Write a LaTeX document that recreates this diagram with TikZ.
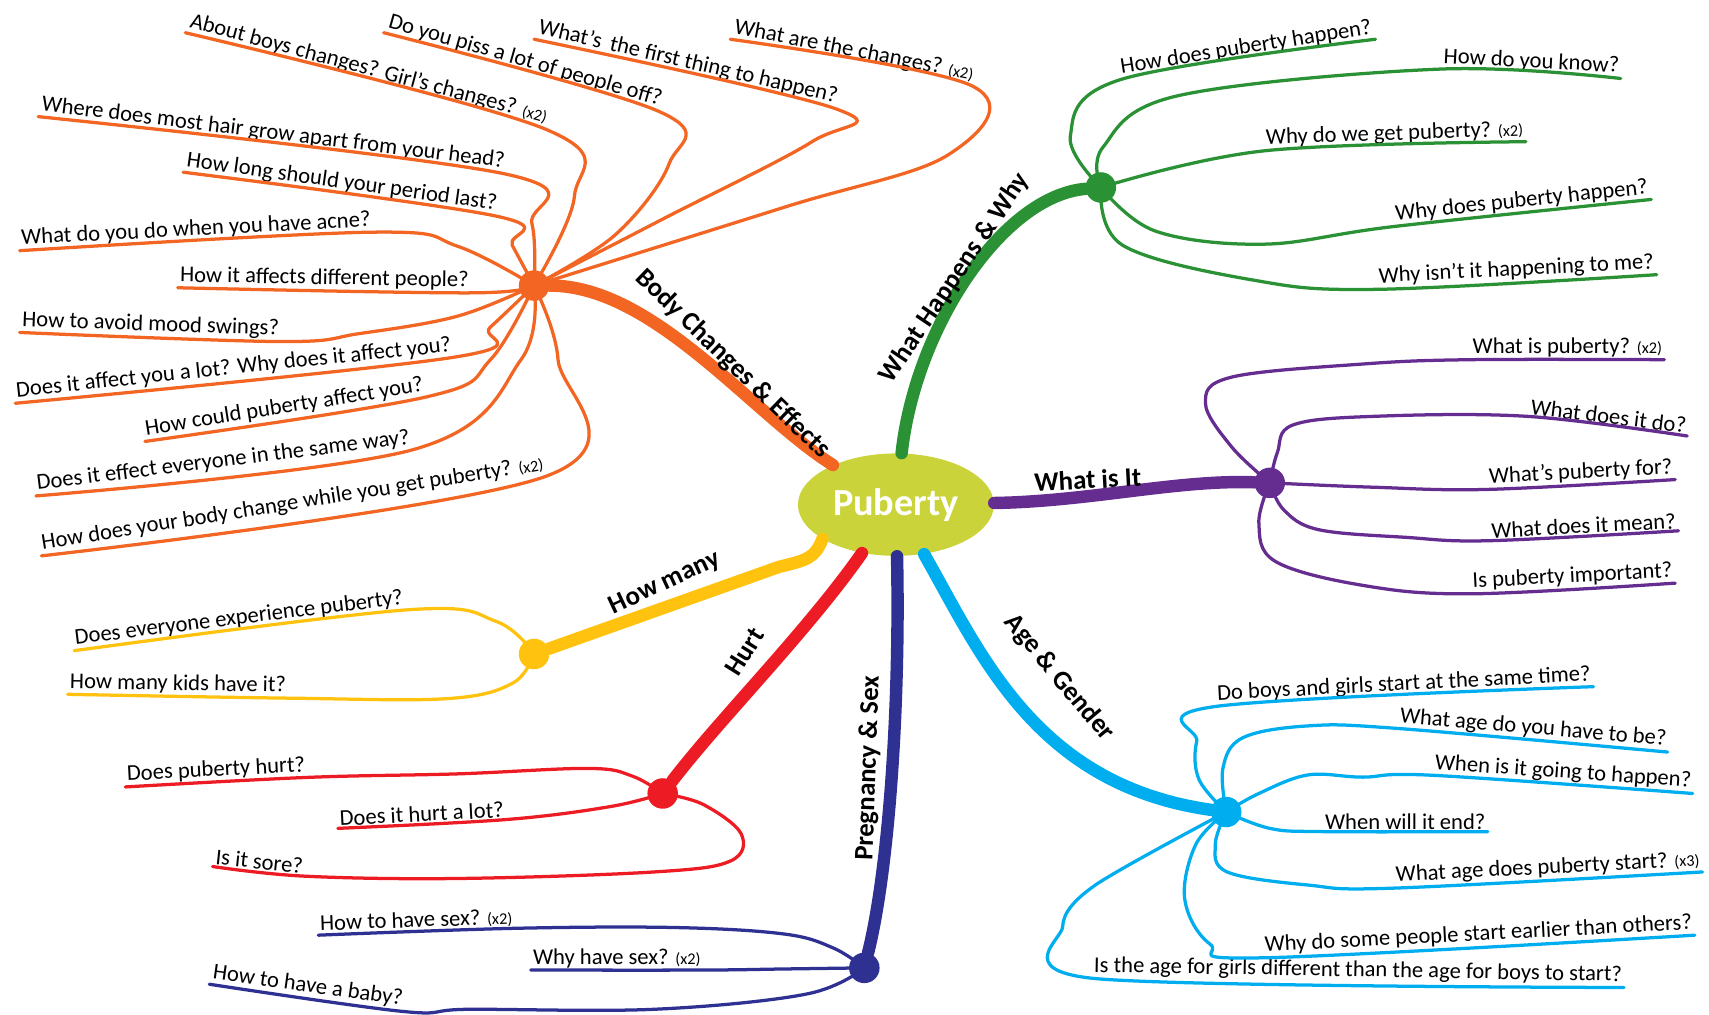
\documentclass[tikz,border=0pt]{standalone}
\usepackage{fontspec}
\setmainfont{Carlito}
\usetikzlibrary{shapes.geometric}

\definecolor{pubc}{HTML}{CAD43A}
\definecolor{bodyc}{HTML}{F26522}
\definecolor{whyc}{HTML}{2A9134}
\definecolor{whatc}{HTML}{662D91}
\definecolor{agec}{HTML}{00AEEF}
\definecolor{sexc}{HTML}{2E3192}
\definecolor{hurtc}{HTML}{ED1C24}
\definecolor{manyc}{HTML}{FFC20E}

\newcommand{\rep}[1]{{\fontsize{8.5}{9}\selectfont(x#1)}}

\begin{document}
\begin{tikzpicture}[
    x=0.02cm, y=-0.02cm,
    qleft/.style={font=\fontsize{11.8}{13}\selectfont, inner sep=1pt, anchor=south west},
    qright/.style={qleft, anchor=south east},
    topic/.style={font=\fontsize{14}{16}\selectfont\bfseries, inner sep=1pt},
    twig/.style={line width=1.7pt, line cap=round, line join=round},
    branch/.style={line width=6.5pt, line cap=round},
    hub/.style={circle, inner sep=0pt, minimum size=0.56cm}
  ]
    \useasboundingbox (0,0) rectangle (1568,931);

    % centre and hubs
    \node[ellipse, fill=pubc, minimum width=3.4cm, minimum height=1.88cm,
      text=white, font=\fontsize{20}{22}\selectfont\bfseries] (pub) at (822,463) {Puberty};
    \node[hub, fill=bodyc] (oh) at (490,262) {};
    \node[hub, fill=whyc] (gh) at (1010,172) {};
    \node[hub, fill=whatc] (ph) at (1165,443) {};
    \node[hub, fill=agec] (ch) at (1125,745) {};
    \node[hub, fill=sexc] (nh) at (793,888) {};
    \node[hub, fill=hurtc] (rh) at (608,728) {};
    \node[hub, fill=manyc] (yh) at (490,600) {};

    \draw[branch, bodyc] (pub) .. controls (690,380) and (600,262) .. (oh);
    \draw[branch, whyc] (pub) .. controls (840,300) and (920,180) .. (gh);
    \draw[branch, whatc] (pub) .. controls (1000,460) and (1080,440) .. (ph);
    \draw[branch, agec] (pub) .. controls (900,600) and (950,720) .. (ch);
    \draw[branch, sexc] (pub) .. controls (826,650) and (815,800) .. (nh);
    \draw[branch, hurtc] (pub) .. controls (740,580) and (660,660) .. (rh);
    \draw[branch, manyc] (pub.205) .. controls (748,512) and (740,514) .. (715,520) -- (yh);

    \node[topic, rotate=-44] (lbody) at (672,334) {Body Changes \& Effects};
    \node[topic, rotate=56] (lwhy) at (876,255) {What Happens \& Why};
    \node[topic, rotate=3] (lwhat) at (998,440) {What is It};
    \node[topic, rotate=-50] (lage) at (972,622) {Age \& Gender};
    \node[topic, rotate=88] (lsex) at (797,705) {Pregnancy \& Sex};
    \node[topic, rotate=58] (lhurt) at (683,598) {Hurt};
    \node[topic, rotate=25] (lmany) at (610,535) {How many};

    % body changes
    \node[qleft, rotate=-15] (o1) at (170,30) {About boys changes? Girl's changes? \rep{2}};
    \node[qleft, rotate=-16] (o2) at (352,30) {Do you piss a lot of people off?};
    \node[qleft, rotate=-13] (o3) at (490,36) {What's\, the first thing to happen?};
    \node[qleft, rotate=-11] (o4) at (670,36) {What are the changes? \rep{2}};
    \node[qleft, rotate=-7] (o5) at (35,107) {Where does most hair grow apart from your head?};
    \node[qleft, rotate=-8] (o6) at (168,158) {How long should your period last?};
    \node[qleft, rotate=3] (o7) at (18,230) {What do you do when you have acne?};
    \node[qleft, rotate=-1] (o8) at (163,264) {How it affects different people?};
    \node[qleft, rotate=-2] (o9) at (18,305) {How to avoid mood swings?};
    \node[qleft, rotate=6] (o10) at (14,370) {Does it affect you a lot? Why does it affect you?};
    \node[qleft, rotate=9] (o11) at (133,405) {How could puberty affect you?};
    \node[qleft, rotate=7] (o12) at (33,455) {Does it effect everyone in the same way?};
    \node[qleft, rotate=9] (o13) at (38,510) {How does your body change while you get puberty? \rep{2}};
    \draw[twig, bodyc] plot[smooth, tension=0.6] coordinates {(oh) (527,180) (o1.south east) (o1.south west)};
    \draw[twig, bodyc] plot[smooth, tension=0.6] coordinates {(oh) (565,215) (614,150) (o2.south east) (o2.south west)};
    \draw[twig, bodyc] plot[smooth, tension=0.6] coordinates {(oh) (610,200) (745,130) (o3.south east) (o3.south west)};
    \draw[twig, bodyc] plot[smooth, tension=0.6] coordinates {(oh) (720,190) (870,142) (o4.south east) (o4.south west)};
    \draw[twig, bodyc] plot[smooth, tension=0.6] coordinates {(oh) (488,205) (o5.south east) (o5.south west)};
    \draw[twig, bodyc] plot[smooth, tension=0.6] coordinates {(oh) (470,225) (o6.south east) (o6.south west)};
    \draw[twig, bodyc] plot[smooth, tension=0.6] coordinates {(oh) (420,226) (o7.south east) (o7.south west)};
    \draw[twig, bodyc] plot[smooth, tension=0.6] coordinates {(oh) (o8.south east) (o8.south west)};
    \draw[twig, bodyc] plot[smooth, tension=0.6] coordinates {(oh) (420,290) (330,306) (o9.south east) (o9.south west)};
    \draw[twig, bodyc] plot[smooth, tension=0.6] coordinates {(oh) (450,300) (o10.south east) (o10.south west)};
    \draw[twig, bodyc] plot[smooth, tension=0.6] coordinates {(oh) (450,330) (o11.south east) (o11.south west)};
    \draw[twig, bodyc] plot[smooth, tension=0.6] coordinates {(oh) (478,330) (o12.south east) (o12.south west)};
    \draw[twig, bodyc] plot[smooth, tension=0.6] coordinates {(oh) (512,330) (o13.south east) (o13.south west)};

    % what happens and why
    \node[qright, rotate=9] (g1) at (1262,36) {How does puberty happen?};
    \node[qright, rotate=-3] (g2) at (1487,72) {How do you know?};
    \node[qright, rotate=2] (g3) at (1400,130) {Why do we get puberty? \rep{2}};
    \node[qright, rotate=6] (g4) at (1515,183) {Why does puberty happen?};
    \node[qright, rotate=3] (g5) at (1520,252) {Why isn't it happening to me?};
    \draw[twig, whyc] plot[smooth, tension=0.6] coordinates {(gh) (982,125) (g1.south west) (g1.south east)};
    \draw[twig, whyc] plot[smooth, tension=0.6] coordinates {(gh) (1012,135) (1080,88) (g2.south west) (g2.south east)};
    \draw[twig, whyc] plot[smooth, tension=0.6] coordinates {(gh) (g3.south west) (g3.south east)};
    \draw[twig, whyc] plot[smooth, tension=0.6] coordinates {(gh) (1060,212) (1160,224) (g4.south west) (g4.south east)};
    \draw[twig, whyc] plot[smooth, tension=0.6] coordinates {(gh) (1030,225) (1150,257) (g5.south west) (g5.south east)};

    % what is it
    \node[qright] (p1) at (1527,330) {What is puberty? \rep{2}};
    \node[qright, rotate=-7] (p2) at (1548,400) {What does it do?};
    \node[qright, rotate=3] (p3) at (1537,440) {What's puberty for?};
    \node[qright, rotate=3] (p4) at (1540,487) {What does it mean?};
    \node[qright, rotate=3] (p5) at (1537,535) {Is puberty important?};
    \draw[twig, whatc] plot[smooth, tension=0.6] coordinates {(ph) (1130,410) (1106,370) (1130,346) (1250,334) (p1.south west) (p1.south east)};
    \draw[twig, whatc] plot[smooth, tension=0.6] coordinates {(ph) (1172,415) (1186,390) (1260,382) (p2.south west) (p2.south east)};
    \draw[twig, whatc] plot[smooth, tension=0.6] coordinates {(ph) (1260,447) (p3.south west) (p3.south east)};
    \draw[twig, whatc] plot[smooth, tension=0.6] coordinates {(ph) (1178,468) (1210,486) (1290,493) (p4.south west) (p4.south east)};
    \draw[twig, whatc] plot[smooth, tension=0.6] coordinates {(ph) (1155,480) (1170,515) (1250,537) (p5.south west) (p5.south east)};

    % age and gender
    \node[qright, rotate=3] (c1) at (1462,630) {Do boys and girls start at the same time?};
    \node[qright, rotate=-5] (c2) at (1530,690) {What age do you have to be?};
    \node[qright, rotate=-4] (c3) at (1553,728) {When is it going to happen?};
    \node[qright] (c4) at (1365,763) {When will it end?};
    \node[qright, rotate=3] (c5) at (1562,800) {What age does puberty start? \rep{3}};
    \node[qright, rotate=3] (c6) at (1555,858) {Why do some people start earlier than others?};
    \node[qright, rotate=-1] (c7) at (1490,906) {Is the age for girls different than the age for boys to start?};
    \draw[twig, agec] plot[smooth, tension=0.6] coordinates {(ch) (1100,715) (1098,680) (c1.south west) (c1.south east)};
    \draw[twig, agec] plot[smooth, tension=0.6] coordinates {(ch) (1122,705) (1140,677) (1200,666) (c2.south west) (c2.south east)};
    \draw[twig, agec] plot[smooth, tension=0.6] coordinates {(ch) (1155,728) (1200,711) (1250,713) (c3.south west) (c3.south east)};
    \draw[twig, agec] plot[smooth, tension=0.6] coordinates {(ch) (1165,760) (c4.south west) (c4.south east)};
    \draw[twig, agec] plot[smooth, tension=0.6] coordinates {(ch) (1115,775) (1126,800) (1200,812) (c5.south west) (c5.south east)};
    \draw[twig, agec] plot[smooth, tension=0.6] coordinates {(ch) (1097,775) (1087,825) (1110,866) (c6.south west) (c6.south east)};
    \draw[twig, agec] plot[smooth, tension=0.5] coordinates {(ch) (1005,812) (975,850) (c7.south west) (c7.south east)};

    % how many
    \node[qleft, rotate=7] (y1) at (68,597) {Does everyone experience puberty?};
    \node[qleft, rotate=-1] (y2) at (62,637) {How many kids have it?};
    \draw[twig, manyc] plot[smooth, tension=0.6] coordinates {(yh) (455,570) (y1.south east) (y1.south west)};
    \draw[twig, manyc] plot[smooth, tension=0.6] coordinates {(yh) (470,627) (410,641) (y2.south east) (y2.south west)};

    % hurt
    \node[qleft, rotate=3] (r1) at (115,722) {Does puberty hurt?};
    \node[qleft, rotate=3] (r2) at (310,760) {Does it hurt a lot?};
    \node[qleft, rotate=-6] (r3) at (195,795) {Is it sore?};
    \draw[twig, hurtc] plot[smooth, tension=0.6] coordinates {(rh) (580,712) (540,705) (420,710) (r1.south east) (r1.south west)};
    \draw[twig, hurtc] plot[smooth, tension=0.6] coordinates {(rh) (560,740) (r2.south east) (r2.south west)};
    \draw[twig, hurtc] plot[smooth, tension=0.6] coordinates {(rh) (645,738) (680,765) (670,790) (600,800) (420,806) (r3.south east) (r3.south west)};

    % pregnancy and sex
    \node[qleft, rotate=2] (n1) at (292,858) {How to have sex? \rep{2}};
    \node[qleft] (n2) at (487,890) {Why have sex? \rep{2}};
    \node[qleft, rotate=-8] (n3) at (192,903) {How to have a baby?};
    \draw[twig, sexc] plot[smooth, tension=0.6] coordinates {(nh) (765,870) (720,857) (620,851) (n1.south east) (n1.south west)};
    \draw[twig, sexc] plot[smooth, tension=0.6] coordinates {(nh) (720,889) (n2.south east) (n2.south west)};
    \draw[twig, sexc] plot[smooth, tension=0.6] coordinates {(nh) (740,912) (600,926) (430,926) (n3.south east) (n3.south west)};
  \end{tikzpicture}
\end{document}
